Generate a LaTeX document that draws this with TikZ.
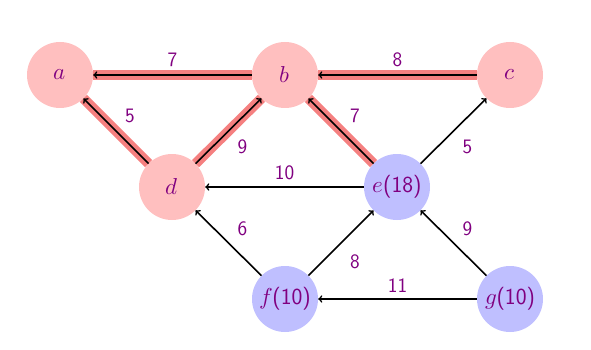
\documentclass[tikz,border=0pt]{standalone}
\usepackage{unicode-math}
\definecolor{lbl}{RGB}{128,0,128}
\definecolor{redfill}{RGB}{255,191,191}
\definecolor{bluefill}{RGB}{191,191,255}
\definecolor{hlred}{RGB}{245,128,128}
\begin{document}
\begin{tikzpicture}[x=1pt,y=-1pt,
  font=\fontsize{20.5}{24}\selectfont\sffamily,
  vtx/.style={circle, minimum size=66pt, inner sep=0pt, text=lbl, font=\fontsize{23}{27}\selectfont\sffamily},
  redv/.style={vtx, fill=redfill},
  bluev/.style={vtx, fill=bluefill},
  arr/.style={->, >=to, line width=1.6pt, black},
  hl/.style={line width=10pt, hlred},
  wt/.style={text=lbl, inner sep=0pt}]
\useasboundingbox (0,0) rectangle (591,350);
\node[redv] (a) at (60,75) {$a$};
\node[redv] (b) at (285,75) {$b$};
\node[redv] (c) at (510,75) {$c$};
\node[redv] (d) at (172,187) {$d$};
\node[bluev] (e) at (397,187) {$e$(18)};
\node[bluev] (f) at (285,299) {$f$(10)};
\node[bluev] (g) at (510,299) {$g$(10)};
% highlighted edges
\draw[hl] (b) -- (a);
\draw[hl] (d) -- (a);
\draw[hl] (d) -- (b);
\draw[hl] (e) -- (b);
\draw[hl] (c) -- (b);
% arrows
\draw[arr] (b) -- node[wt, midway, yshift=15pt] {7} (a);
\draw[arr] (d) -- node[wt, midway, xshift=14pt, yshift=15pt] {5} (a);
\draw[arr] (d) -- node[wt, midway, xshift=14pt, yshift=-16pt] {9} (b);
\draw[arr] (e) -- node[wt, midway, xshift=14pt, yshift=15pt] {7} (b);
\draw[arr] (c) -- node[wt, midway, yshift=15pt] {8} (b);
\draw[arr] (e) -- node[wt, midway, xshift=14pt, yshift=-16pt] {5} (c);
\draw[arr] (e) -- node[wt, midway, yshift=14pt] {10} (d);
\draw[arr] (f) -- node[wt, midway, xshift=14pt, yshift=14pt] {6} (d);
\draw[arr] (f) -- node[wt, midway, xshift=14pt, yshift=-19pt] {8} (e);
\draw[arr] (g) -- node[wt, midway, xshift=14pt, yshift=14pt] {9} (e);
\draw[arr] (g) -- node[wt, midway, yshift=13pt] {11} (f);
\end{tikzpicture}
\end{document}
